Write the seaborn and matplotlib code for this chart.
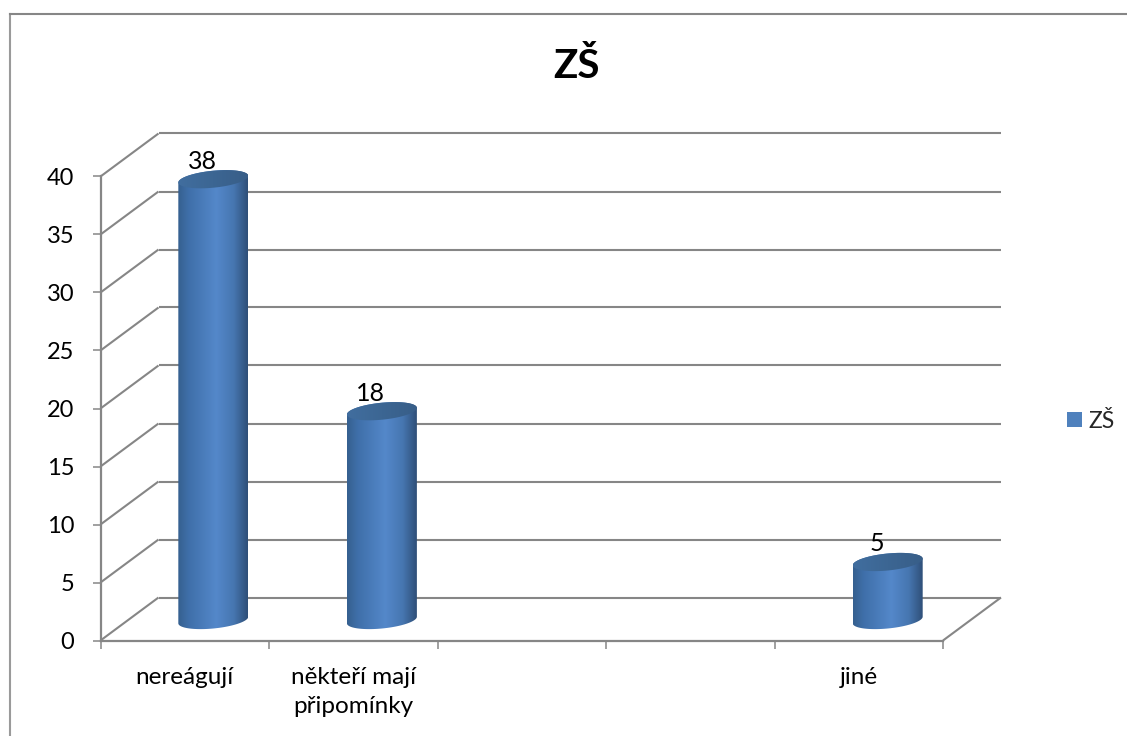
import numpy as np
import matplotlib
matplotlib.use("Agg")
import matplotlib.pyplot as plt
from matplotlib.colors import LinearSegmentedColormap
from matplotlib.lines import Line2D
from matplotlib.patches import Patch, PathPatch, Polygon
from matplotlib.path import Path
import seaborn as sns

# Survey answers for primary schools
categories = ["nereágují", "někteří mají\npřipomínky", "", "", "jiné"]
values = [38, 18, np.nan, np.nan, 5]
y_ticks = [0, 5, 10, 15, 20, 25, 30, 35, 40]
series_name = "ZŠ"
chart_title = "ZŠ"

W, H = 1127, 736
GREY = "#868686"
TEXT = "#000000"

sns.set_theme(style="white")
plt.rcParams["font.family"] = ["Lato", "DejaVu Sans"]

fig = plt.figure(figsize=(W / 100, H / 100), dpi=100, facecolor="white")


def pixel_axes(left, right, top, bottom):
    return fig.add_axes([left / W, 1 - bottom / H, (right - left) / W, (bottom - top) / H])


# Front plane carries the ticks and labels; the bars stand half way back
ax = pixel_axes(100.5, 943, 176.5, 640.5)
ax_bar = pixel_axes(129, 972, 156, 620)
positions = np.arange(len(categories))

for a in (ax, ax_bar):
    a.set_xlim(-0.5, len(categories) - 0.5)
    a.set_ylim(0, 40)
    a.patch.set_alpha(0)

ax.set_zorder(1)
ax_bar.set_zorder(2)

# Depth of the box, expressed in data units of the front plane
x_unit = (943 - 100.5) / len(categories)
y_unit = (640.5 - 176.5) / 40
dx, dy = 58 / x_unit, 43 / y_unit
x0, x1 = -0.5, len(categories) - 0.5

line_kw = dict(color=GREY, lw=1.5, clip_on=False, solid_capstyle="butt")
for t in y_ticks:
    ax.plot([x0 + dx, x1 + dx], [t + dy, t + dy], **line_kw)
    ax.plot([x0, x0 + dx], [t, t + dy], **line_kw)
ax.plot([x1, x1 + dx], [0, dy], **line_kw)

ax.set_xticks(np.arange(len(categories) + 1) - 0.5)
ax.set_xticklabels([])
ax.set_xticks(positions, labels=categories, minor=True)
ax.set_yticks(y_ticks)
ax.tick_params(axis="x", which="major", length=5.5, width=1.1, color=GREY, bottom=True)
ax.tick_params(axis="x", which="minor", length=0, pad=19, labelsize=17.5, labelcolor=TEXT)
ax.tick_params(axis="y", length=5.5, width=1.1, color=GREY, left=True, pad=13.5,
               labelsize=17, labelcolor=TEXT)
for label in ax.get_xticklabels(minor=True):
    label.set_linespacing(1.5)
sns.despine(ax=ax, top=True, right=True)
for side in ("left", "bottom"):
    ax.spines[side].set_color(GREY)
    ax.spines[side].set_linewidth(1.6)

# Bars come from seaborn, then get repainted as shaded cylinders
sns.barplot(x=positions, y=values, ax=ax_bar, width=0.415, color="#4F81BD",
            native_scale=True, legend=False)
ax_bar.set_xlim(x0, x1)
ax_bar.set_ylim(0, 40)
ax_bar.set_axis_off()

body = LinearSegmentedColormap.from_list(
    "body", [(0, "#35608F"), (0.15, "#3F6FA9"), (0.55, "#5488CA"), (0.8, "#4676B0"), (1, "#2F4F78")])
lid = LinearSegmentedColormap.from_list(
    "lid", [(0, "#416E9F"), (0.5, "#3C6693"), (1, "#385E88")])
gradient = np.linspace(0, 1, 256).reshape(1, -1)

half_h = 8.5 / 11.6
slope = 3.3 / 11.6
t = np.linspace(0, 2 * np.pi, 121)


def rim(cx, level, half_w, angles):
    return np.column_stack([cx + half_w * np.cos(angles),
                            level + half_h * np.sin(angles) + slope * np.cos(angles)])


for bar in list(ax_bar.patches):
    v = bar.get_height()
    if not np.isfinite(v):
        continue
    cx = bar.get_x() + bar.get_width() / 2
    hw = bar.get_width() / 2
    bar.set_alpha(0)
    lower = rim(cx, 0, hw, np.linspace(np.pi, 2 * np.pi, 60))
    upper = rim(cx, v, hw, np.linspace(0, np.pi, 60))
    outline = Path(np.vstack([lower, upper, lower[:1]]), closed=True)
    shaft = PathPatch(outline, transform=ax_bar.transData, fc="none", ec="none")
    ax_bar.add_patch(shaft)
    img = ax_bar.imshow(gradient, cmap=body, aspect="auto", interpolation="bilinear",
                        extent=(cx - hw, cx + hw, -2, v + 2), zorder=3)
    img.set_clip_box(fig.bbox)
    img.set_clip_path(shaft)
    cap = Polygon(rim(cx, v, hw, t), closed=True, transform=ax_bar.transData, fc="none", ec="none")
    ax_bar.add_patch(cap)
    img2 = ax_bar.imshow(gradient, cmap=lid, aspect="auto", interpolation="bilinear",
                         extent=(cx - hw, cx + hw, v - 2, v + 2), zorder=4)
    img2.set_clip_box(fig.bbox)
    img2.set_clip_path(cap)
    ax_bar.annotate(f"{v:.0f}", xy=(cx, v), xytext=(-8, 13), textcoords="offset points",
                    ha="center", va="center", fontsize=18, color=TEXT, zorder=5,
                    annotation_clip=False)
ax_bar.set_xlim(x0, x1)
ax_bar.set_ylim(0, 40)

fig.text(576 / W, 1 - 67 / H, chart_title, ha="center", va="center",
         fontsize=29, fontweight="bold", color=TEXT)

fig.legend(handles=[Patch(fc="#4F81BD", ec="none", label=series_name)], loc="center left",
           bbox_to_anchor=(1067 / W, 1 - 421 / H), frameon=False, fontsize=16.5,
           handlelength=0.65, handleheight=0.65, handletextpad=0.3, borderpad=0, borderaxespad=0)

# Chart frame: its top and left edges run off the canvas
fig.add_artist(Line2D([10 / W, 10 / W], [0, 1 - 14 / H], color="#9A9A9A", lw=1.5,
                      transform=fig.transFigure, solid_capstyle="projecting"))
fig.add_artist(Line2D([10 / W, 1], [1 - 14 / H, 1 - 14 / H], color=GREY, lw=1.5,
                      transform=fig.transFigure, solid_capstyle="projecting"))

fig.savefig("out.png", dpi=100, facecolor="white")
